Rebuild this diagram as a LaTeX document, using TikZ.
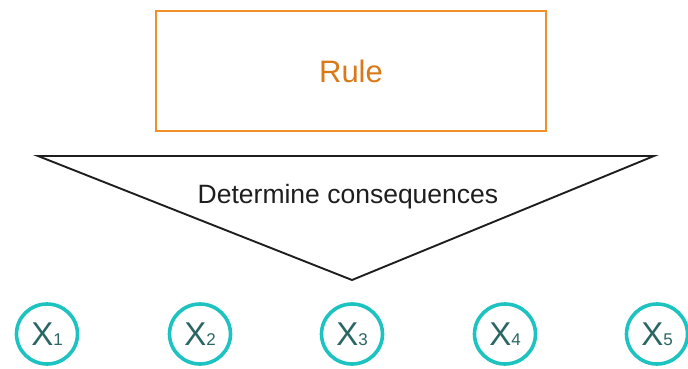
\documentclass[tikz,border=0pt]{standalone}
\usepackage{fontspec}
\setmainfont{Liberation Sans}
\usetikzlibrary{shapes.geometric}
\definecolor{rulec}{HTML}{F0902A}
\definecolor{ruletext}{HTML}{D97A18}
\definecolor{tealring}{HTML}{1CC3C0}
\definecolor{tealtext}{HTML}{2A6664}
\definecolor{tri}{HTML}{1E1E1E}
\tikzset{
  rulebox/.style={draw=rulec, line width=2pt, minimum width=390pt, minimum height=120pt, inner sep=0pt, text=ruletext, font=\fontsize{31}{31}\selectfont},
  xnode/.style={ellipse, draw=tealring, line width=3.6pt, minimum width=61pt, minimum height=60pt, inner sep=0pt, text=tealtext, font=\fontsize{33}{33}\selectfont},
  trishape/.style={draw=tri, line width=1.9pt, line join=miter},
  tritext/.style={text=tri, font=\fontsize{26.5}{26.5}\selectfont, inner sep=0pt}
}
\newcommand{\xsub}[1]{X{\fontsize{17}{17}\selectfont #1}}
\begin{document}
\begin{tikzpicture}[x=1pt,y=-1pt]
\useasboundingbox (0,0) rectangle (688,369);
\node[rulebox] (rule) at (351,71) {Rule};
\coordinate (tl) at (38,156);
\coordinate (tr) at (654,156);
\coordinate (ap) at (352,280);
\draw[trishape] (tl) -- (tr) -- (ap) -- cycle;
\node[tritext, anchor=base] (det) at (348,203) {Determine consequences};
\node[xnode] (x1) at (47,334) {\xsub{1}};
\node[xnode] (x2) at (200,334) {\xsub{2}};
\node[xnode] (x3) at (352,334) {\xsub{3}};
\node[xnode] (x4) at (505,334) {\xsub{4}};
\node[xnode] (x5) at (657,334) {\xsub{5}};
\end{tikzpicture}
\end{document}
